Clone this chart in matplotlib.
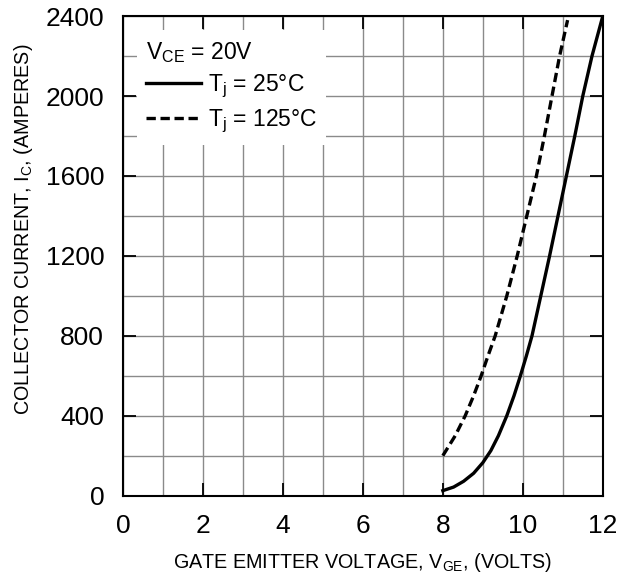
import matplotlib
matplotlib.use("Agg")
import matplotlib.pyplot as plt
from matplotlib.ticker import MultipleLocator

plt.rcParams['font.family'] = ['Liberation Sans', 'DejaVu Sans']
plt.rcParams['mathtext.fontset'] = 'custom'
plt.rcParams['mathtext.rm'] = 'Liberation Sans'
plt.rcParams['mathtext.it'] = 'Liberation Sans'

# Tj = 25 C
vge_25 = [8.0, 8.27, 8.52, 8.77, 9.0, 9.2, 9.39, 9.6, 9.78, 9.94, 10.09,
          10.23, 10.45, 10.67, 10.88, 11.09, 11.3, 11.5, 11.73, 12.0]
ic_25 = [25, 43, 72, 112, 165, 225, 300, 400, 500, 600, 700,
         800, 1000, 1200, 1400, 1600, 1800, 2000, 2200, 2400]

# Tj = 125 C
vge_125 = [8.0, 8.31, 8.56, 8.77, 8.95, 9.13, 9.31, 9.6, 9.86, 10.1, 10.34,
           10.54, 10.73, 10.92, 11.12]
ic_125 = [200, 300, 400, 500, 595, 700, 800, 1000, 1200, 1400, 1600,
          1800, 2000, 2200, 2380]

x_ticks = [0, 2, 4, 6, 8, 10, 12]
y_ticks = [0, 400, 800, 1200, 1600, 2000, 2400]

fig = plt.figure(figsize=(6.24, 5.75), dpi=100)
ax = fig.add_axes([0.197, 0.138, 0.769, 0.834])

ax.plot(vge_25, ic_25, color='black', lw=2.4, solid_joinstyle='round',
        label=r'$\mathregular{T_j}$ = 25°C', zorder=3)
ax.plot(vge_125, ic_125, color='black', lw=2.4, linestyle=(0, (2.8, 1.4)),
        dash_capstyle='butt', label=r'$\mathregular{T_j}$ = 125°C', zorder=3)

ax.set_xlim(0, 12)
ax.set_ylim(0, 2400)
ax.set_xticks(x_ticks)
ax.set_yticks(y_ticks)
ax.xaxis.set_minor_locator(MultipleLocator(1))
ax.yaxis.set_minor_locator(MultipleLocator(200))
ax.grid(which='both', color='#8a8a8a', lw=1.0, zorder=0)
ax.set_axisbelow(True)

ax.tick_params(which='major', direction='in', length=9.5, width=1.3,
               top=True, right=True, labelsize=19, pad=13.5, colors='black')
ax.tick_params(which='minor', length=0)
for s in ax.spines.values():
    s.set_linewidth(1.5)

ax.set_xlabel(r'GATE EMITTER VOLTAGE, $\mathregular{V_{GE}}$, (VOLTS)',
              fontsize=14.2)
ax.set_ylabel(r'COLLECTOR CURRENT, $\mathregular{I_C}$, (AMPERES)',
              fontsize=14.2)
ax.xaxis.set_label_coords(0.5, -0.115)
ax.yaxis.set_label_coords(-0.183, 0.555)

leg = ax.legend(title=r'$\mathregular{V_{CE}}$ = 20V', loc='upper left',
                bbox_to_anchor=(0.029, 0.97), alignment='left',
                frameon=True, fancybox=False, framealpha=1,
                edgecolor='none', facecolor='white', fontsize=16.5,
                title_fontsize=16.5, handlelength=2.4, handletextpad=0.3,
                borderpad=0.4, labelspacing=0.35, borderaxespad=0)
leg.set_zorder(5)

fig.savefig('out.png', dpi=100)
